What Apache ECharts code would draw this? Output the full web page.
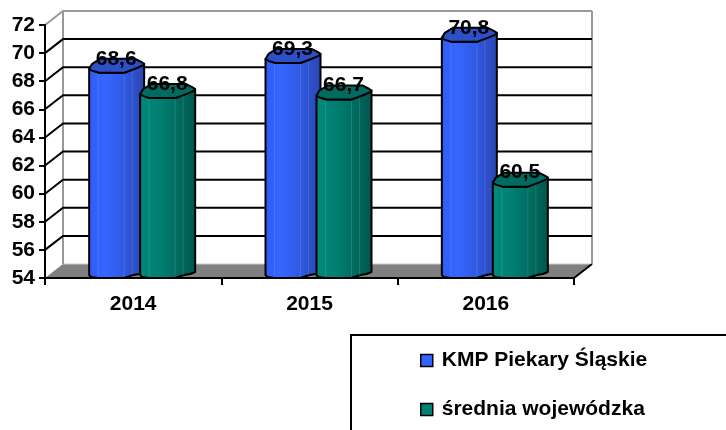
<!DOCTYPE html>
<html><head><meta charset="utf-8">
<style>html,body{margin:0;padding:0;background:#fff;overflow:hidden}#c{width:726px;height:430px}</style>
<script src="https://cdn.jsdelivr.net/npm/echarts@6/dist/echarts.min.js"></script>
</head><body><div id="c"></div>
<script>
const categories = ['2014', '2015', '2016'];
const kmpValues = [68.6, 69.3, 70.8];
const avgValues = [66.8, 66.7, 60.5];
const yTicks = [54, 56, 58, 60, 62, 64, 66, 68, 70, 72];
const seriesNames = ['KMP Piekary Śląskie', 'średnia wojewódzka'];

const FONT = '"Liberation Sans", Arial, sans-serif';
const DEPTH_X = 18, DEPTH_Y = 14;
const BAR_W = 55;
const chart = echarts.init(document.getElementById('c'), null, {renderer: 'canvas'});

function wall(params, api) {
  const cs = params.coordSys;
  const v = api.value(0);
  const p = api.coord([0, v]);
  const y = p[1], x0 = cs.x, x1 = cs.x + cs.width;
  const kids = [];
  if (v === 54) {
    kids.push({type: 'polygon', shape: {points: [[x0, y], [x0 + DEPTH_X, y - DEPTH_Y], [x1 + DEPTH_X, y - DEPTH_Y], [x1, y]]},
      style: {fill: '#808080', stroke: null}});
    kids.push({type: 'line', shape: {x1: x0 + DEPTH_X, y1: y - DEPTH_Y, x2: x1 + DEPTH_X, y2: y - DEPTH_Y}, style: {stroke: '#c8c8c8', lineWidth: 1}});
    kids.push({type: 'line', shape: {x1: x1, y1: y, x2: x1 + DEPTH_X, y2: y - DEPTH_Y}, style: {stroke: '#000', lineWidth: 2}});
    const top = api.coord([0, 72])[1] - DEPTH_Y;
    kids.push({type: 'line', shape: {x1: x0 + DEPTH_X, y1: y - DEPTH_Y, x2: x0 + DEPTH_X, y2: top}, style: {stroke: '#999', lineWidth: 2}});
    kids.push({type: 'line', shape: {x1: x1 + DEPTH_X, y1: y - DEPTH_Y, x2: x1 + DEPTH_X, y2: top}, style: {stroke: '#999', lineWidth: 2}});
  } else {
    const c = v === 72 ? '#999' : '#000';
    kids.push({type: 'polyline', shape: {points: [[x0, y], [x0 + DEPTH_X, y - DEPTH_Y], [x1 + DEPTH_X, y - DEPTH_Y]]},
      style: {stroke: c, lineWidth: 2, fill: null}});
  }
  return {type: 'group', children: kids};
}

function barItem(offset, body, cap) {
  return function (params, api) {
    const cat = api.value(0), v = api.value(1);
    const top = api.coord([cat, v]);
    const base = api.coord([cat, 54]);
    const x = top[0] + offset, t = top[1], b = base[1];
    const w = BAR_W;
    const outline = [[x, t - 4], [x + 10, t], [x + 35, t], [x + w, t - 9],
      [x + w, b - 6], [x + 50, b - 4], [x + 44, b - 3], [x + 35, b], [x + 9, b], [x + 2, b - 1], [x, b - 3]];
    const capPts = [[x, t - 4], [x + 3, t - 2], [x + 10, t], [x + 35, t], [x + 46, t - 4], [x + 53, t - 7], [x + w, t - 9],
      [x + 52, t - 11], [x + 46, t - 14], [x + 11, t - 14], [x + 3, t - 9]];
    const grad = new echarts.graphic.LinearGradient(0, 0, 1, 0, body);
    const hl = [9, 35, 43].map(d => ({type: 'line',
      shape: {x1: x + d, y1: t + (d > 30 ? -2 : 1), x2: x + d, y2: b - 2},
      style: {stroke: 'rgba(255,255,255,0.12)', lineWidth: 1}}));
    return {type: 'group', children: [
      {type: 'polygon', shape: {points: outline}, style: {fill: grad, stroke: '#000', lineWidth: 2, lineJoin: 'round'}},
      ...hl,
      {type: 'polygon', shape: {points: capPts}, style: {fill: cap, stroke: '#000', lineWidth: 2, lineJoin: 'round'}},
      {type: 'text', style: {x: x + 27, y: t - 14, text: String(v).replace('.', ','), fill: '#000',
        font: 'bold 21px ' + FONT, align: 'center', verticalAlign: 'middle'}}
    ]};
  };
}

const blueStops = [{offset: 0, color: '#2f5cf5'}, {offset: 0.3, color: '#3566ff'}, {offset: 0.65, color: '#2f58e0'}, {offset: 1, color: '#2a45ae'}];
const tealStops = [{offset: 0, color: '#008a7c'}, {offset: 0.35, color: '#007f72'}, {offset: 0.7, color: '#006a5f'}, {offset: 1, color: '#00564d'}];

chart.setOption({
  animation: false,
  backgroundColor: '#fff',
  grid: {left: 45, right: 152, top: 25, bottom: 152, containLabel: false},
  xAxis: {type: 'category', data: categories, z: 1,
    axisLine: {lineStyle: {color: '#000', width: 2}},
    axisTick: {show: true, length: 7, alignWithLabel: false, lineStyle: {color: '#000', width: 2}},
    axisLabel: {color: '#000', fontFamily: FONT, fontWeight: 'bold', fontSize: 21, margin: 16}},
  yAxis: {type: 'value', min: 54, max: 72, interval: 2, z: 1,
    axisLine: {show: true, lineStyle: {color: '#000', width: 2}},
    axisTick: {show: true, length: 6, lineStyle: {color: '#000', width: 2}},
    axisLabel: {color: '#000', fontFamily: FONT, fontWeight: 'bold', fontSize: 21, margin: 10},
    splitLine: {show: false}},
  legend: {data: seriesNames, orient: 'vertical', left: 420, top: 350, padding: 0, itemWidth: 12, itemHeight: 12, itemGap: 28,
    icon: 'rect', selectedMode: false,
    itemStyle: {borderColor: '#000', borderWidth: 1.5},
    textStyle: {color: '#000', fontFamily: FONT, fontWeight: 'bold', fontSize: 21, padding: [0, 0, 0, 4]}},
  graphic: [{type: 'rect', shape: {x: 351, y: 335, width: 420, height: 140}, style: {fill: '#fff', stroke: '#000', lineWidth: 2}, z: -1, silent: true}],
  series: [
    {type: 'custom', name: 'wall', z: 0, silent: true, renderItem: wall, encode: {y: 0}, data: yTicks.map(t => [t]), clip: false},
    {type: 'custom', name: seriesNames[0], z: 2, itemStyle: {color: '#3366ff'}, clip: false,
      renderItem: barItem(-44, blueStops, '#2c50c8'), encode: {x: 0, y: 1},
      data: categories.map((c, i) => [i, kmpValues[i]])},
    {type: 'custom', name: seriesNames[1], z: 3, itemStyle: {color: '#008074'}, clip: false,
      renderItem: barItem(7, tealStops, '#006b60'), encode: {x: 0, y: 1},
      data: categories.map((c, i) => [i, avgValues[i]])}
  ]
});
</script></body></html>
